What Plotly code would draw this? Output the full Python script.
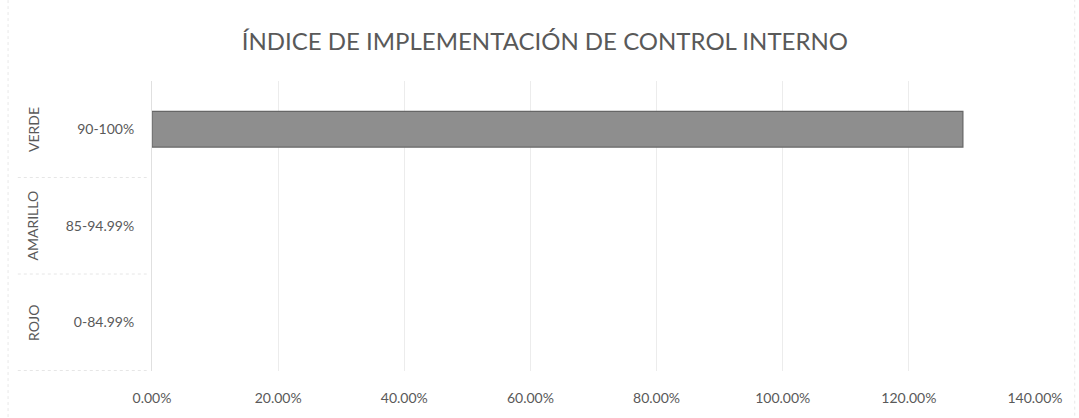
import plotly.graph_objects as go

# Category levels (outer group and inner range) and values
grupos = ["VERDE", "AMARILLO", "ROJO"]
rangos = ["90-100%", "85-94.99%", "0-84.99%"]
indice = [1.2857, None, None]
x_ticks = [0, 0.2, 0.4, 0.6, 0.8, 1.0, 1.2, 1.4]

TXT = "#595959"
FONT = "Lato, 'Open Sans', sans-serif"

fig = go.Figure()
fig.add_trace(go.Bar(
    y=rangos,
    x=indice,
    orientation="h",
    width=0.37,
    marker=dict(color="#8e8e8e", line=dict(color="#666666", width=1.2)),
    showlegend=False,
))

# Outer-level labels (rotated) for the multi-level category axis
for g, r in zip(grupos, rangos):
    fig.add_annotation(
        x=-0.135, xref="paper", xanchor="center", y=r, yref="y",
        text=g, textangle=-90, showarrow=False,
        font=dict(size=14, color=TXT, family=FONT),
    )

# Separators between category groups in the label area
for pos in [0.5, 1.5, 2.5]:
    fig.add_shape(
        type="line", xref="paper", yref="y",
        x0=-0.152, x1=-0.006, y0=pos, y1=pos,
        line=dict(color="#e6e6e6", width=1, dash="dot"),
    )

# Chart-area border
fig.add_shape(
    type="rect", xref="paper", yref="paper",
    x0=-0.163, x1=1.045, y0=-0.2, y1=1.32,
    line=dict(color="#e8e8e8", width=1, dash="dot"),
)

fig.update_layout(
    width=1079, height=418,
    margin=dict(l=152, r=44, t=81, b=45),
    paper_bgcolor="white", plot_bgcolor="white",
    font=dict(family=FONT, color=TXT),
    title=dict(
        text="ÍNDICE DE IMPLEMENTACIÓN DE CONTROL INTERNO",
        x=0.505, xanchor="center", y=0.9, yanchor="middle",
        font=dict(size=24, color=TXT, family=FONT),
    ),
    bargap=0.63,
)

fig.update_xaxes(
    range=[0, 1.4], tickvals=x_ticks, tickformat=".2%",
    showgrid=True, gridcolor="#ececec", gridwidth=1,
    zeroline=False, showline=False,
    ticks="outside", ticklen=14, tickcolor="rgba(0,0,0,0)",
    tickfont=dict(size=14, color=TXT, family=FONT),
)
fig.update_yaxes(
    type="category", categoryorder="array", categoryarray=rangos,
    autorange="reversed",
    showgrid=False, zeroline=False,
    showline=True, linecolor="#e0e0e0", linewidth=1,
    ticks="outside", ticklen=14, tickcolor="rgba(0,0,0,0)",
    tickfont=dict(size=14, color=TXT, family=FONT),
)

fig.write_html("out.html")
